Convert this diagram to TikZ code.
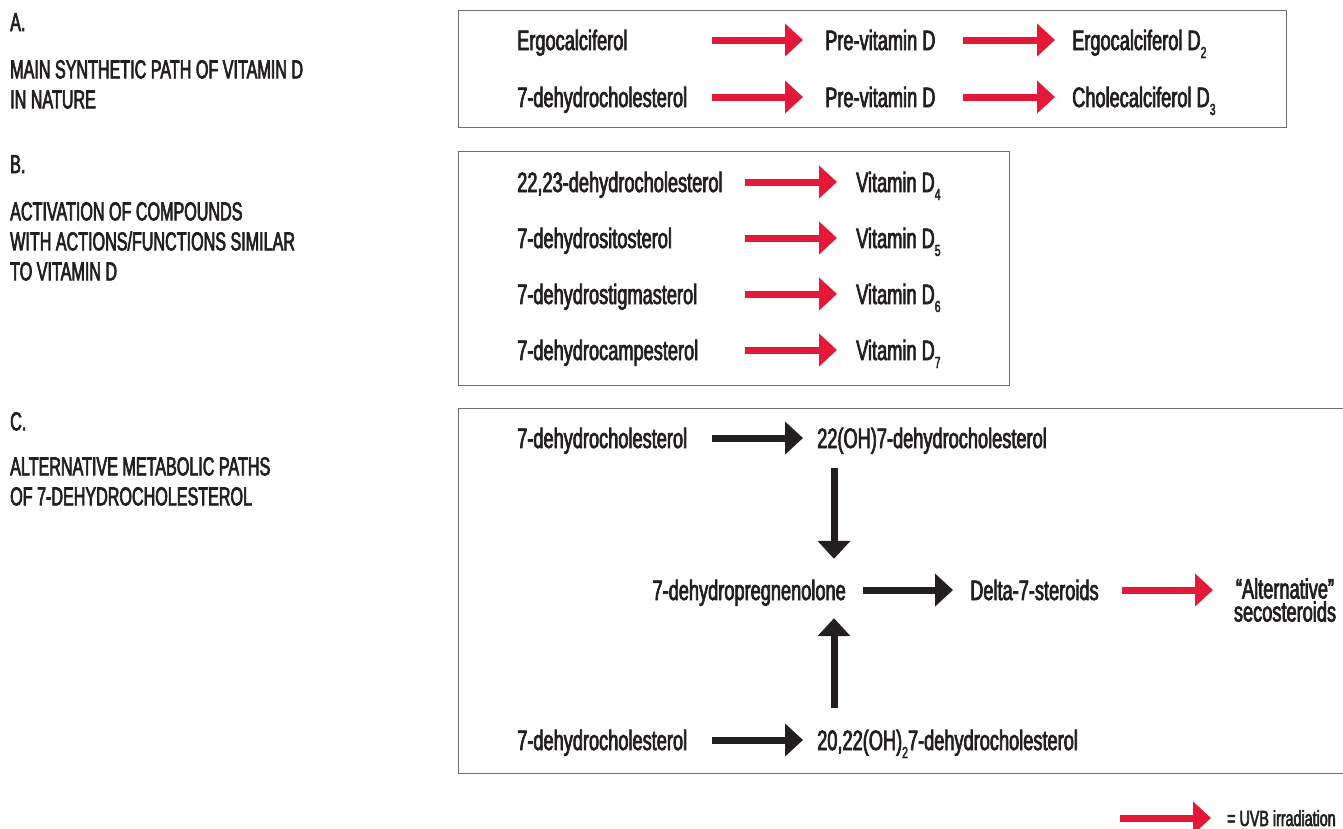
\documentclass[tikz,border=0pt]{standalone}
\usepackage{fontspec}
\setmainfont{Liberation Sans}[FakeStretch=0.65,FakeBold=2.5]
\newfontfamily\capsfont{Liberation Sans}[FakeStretch=0.62,FakeBold=2.5]
\usetikzlibrary{arrows.meta}
\definecolor{uvbred}{HTML}{E4193A}
\definecolor{ink}{HTML}{231F20}
\definecolor{boxline}{HTML}{6D6E71}
\newcommand\subn[1]{\raisebox{-8pt}{\fontsize{16}{16}\selectfont #1}}
\begin{document}
\begin{tikzpicture}[x=1pt,y=-1pt,
  txt/.style={inner sep=0pt, text height=20pt, text depth=0pt, anchor=west, text=ink, font=\fontsize{28}{30}\selectfont},
  lbl/.style={inner sep=0pt, anchor=north west, align=left, text=ink, font=\capsfont\fontsize{26}{30}\selectfont},
  panel/.style={draw=boxline, line width=1pt},
  uvb/.style={draw=uvbred, line width=7pt, -{Triangle[length=18pt,width=32pt]}},
  chem/.style={draw=ink, line width=7pt, -{Triangle[length=18pt,width=32pt]}},
]
\useasboundingbox[fill=white] (0,0) rectangle (1343,828);

% panels
\draw[panel] (458,10) rectangle (1286,127);
\draw[panel] (458,151) rectangle (1009,385);
\draw[panel] (458,408) rectangle (1360,773);

% left labels
\node[lbl] (lA) at (10,13) {A.};
\node[lbl] (dA) at (10,60) {MAIN SYNTHETIC PATH OF VITAMIN D\\IN NATURE};
\node[lbl] (lB) at (10,155) {B.};
\node[lbl] (dB) at (10,202) {ACTIVATION OF COMPOUNDS\\WITH ACTIONS/FUNCTIONS SIMILAR\\TO VITAMIN D};
\node[lbl] (lC) at (10,412) {C.};
\node[lbl] (dC) at (10,457) {ALTERNATIVE METABOLIC PATHS\\OF 7-DEHYDROCHOLESTEROL};

% column coordinates
\coordinate (xa1) at (712,0);
\coordinate (xa2) at (803,0);
\coordinate (xa3) at (963,0);
\coordinate (xa4) at (1055,0);
\coordinate (xb1) at (745,0);
\coordinate (xb2) at (837,0);
\coordinate (xm1) at (863,0);
\coordinate (xm2) at (953,0);
\coordinate (xr1) at (1122,0);
\coordinate (xr2) at (1213,0);
\coordinate (xv) at (834,0);

% panel A
\node[txt] (a11) at (517,40) {Ergocalciferol};
\node[txt] (a12) at (825,40) {Pre-vitamin D};
\node[txt] (a13) at (1072,40) {Ergocalciferol D\subn{2}};
\node[txt] (a21) at (517,97) {7-dehydrocholesterol};
\node[txt] (a22) at (825,97) {Pre-vitamin D};
\node[txt] (a23) at (1072,97) {Cholecalciferol D\subn{3}};
\draw[uvb] (a11 -| xa1) -- (a12 -| xa2);
\draw[uvb] (a12 -| xa3) -- (a13 -| xa4);
\draw[uvb] (a21 -| xa1) -- (a22 -| xa2);
\draw[uvb] (a22 -| xa3) -- (a23 -| xa4);

% panel B
\node[txt] (b1) at (517,182) {22,23-dehydrocholesterol};
\node[txt] (v1) at (856,182) {Vitamin D\subn{4}};
\node[txt] (b2) at (517,238) {7-dehydrositosterol};
\node[txt] (v2) at (856,238) {Vitamin D\subn{5}};
\node[txt] (b3) at (517,294) {7-dehydrostigmasterol};
\node[txt] (v3) at (856,294) {Vitamin D\subn{6}};
\node[txt] (b4) at (517,350) {7-dehydrocampesterol};
\node[txt] (v4) at (856,350) {Vitamin D\subn{7}};
\draw[uvb] (b1 -| xb1) -- (v1 -| xb2);
\draw[uvb] (b2 -| xb1) -- (v2 -| xb2);
\draw[uvb] (b3 -| xb1) -- (v3 -| xb2);
\draw[uvb] (b4 -| xb1) -- (v4 -| xb2);

% panel C
\node[txt] (c1a) at (517,438) {7-dehydrocholesterol};
\node[txt] (c1b) at (817,438) {22(OH)7-dehydrocholesterol};
\node[txt, anchor=east] (mid) at (846,590) {7-dehydropregnenolone};
\node[txt] (delta) at (970,590) {Delta-7-steroids};
\node[inner sep=0pt, anchor=north, align=center, text=ink, font=\fontsize{28}{23}\selectfont] (alt) at (1285,578) {“Alternative”\\secosteroids};
\node[txt] (c3a) at (517,740) {7-dehydrocholesterol};
\node[txt] (c3b) at (817,740) {20,22(OH)\subn{2}7-dehydrocholesterol};
\draw[chem] (c1a -| xa1) -- (c1b -| xa2);
\draw[chem] (c3a -| xa1) -- (c3b -| xa2);
\draw[chem, shorten <=20pt, shorten >=21pt] (c1b.south -| xv) -- (mid.north -| xv);
\draw[chem, shorten <=22pt, shorten >=18pt] (c3b.north -| xv) -- (mid.south -| xv);
\draw[chem] (mid -| xm1) -- (delta -| xm2);
\draw[uvb] (delta -| xr1) -- (delta -| xr2);

% legend
\node[txt, text height=16pt, font=\fontsize{22}{24}\selectfont] (leg) at (1227,818) {= UVB irradiation};
\coordinate (legs) at (1120,818);
\draw[uvb] (legs) -- ([xshift=-16pt]leg.west);
\end{tikzpicture}
\end{document}
